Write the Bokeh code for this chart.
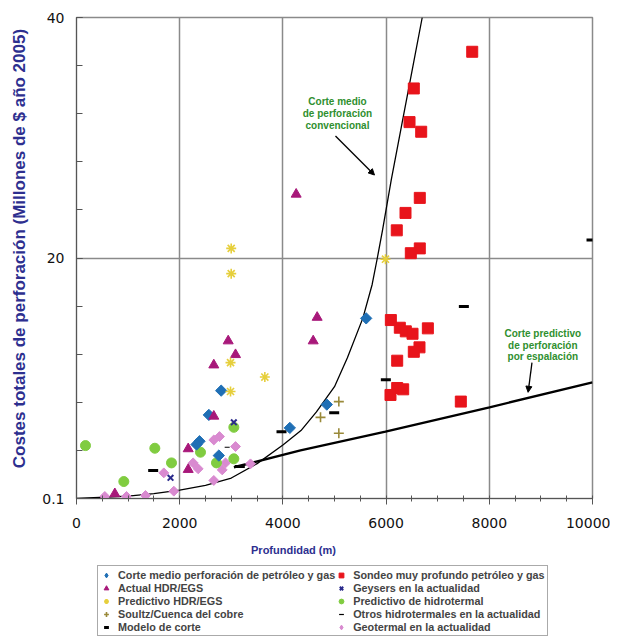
from bokeh.plotting import figure
from bokeh.layouts import column
from bokeh.models import FixedTicker, Legend, LegendItem, Arrow, NormalHead, Label, Range1d
from bokeh.embed import file_html
from bokeh.resources import INLINE

# ---------------- data ----------------
x_ticks = [0, 2000, 4000, 6000, 8000, 10000]
x_tick_labels = ["0", "2000", "4000", "6000", "8000", "10000"]
y_ticks = [0, 20, 40]
y_tick_labels = ["0.1", "20", "40"]

# Corte medio perforación de petróleo y gas (blue diamonds)
oil_avg_x = [5614, 4851, 4134, 2804, 2565, 2384, 2326, 2758]
oil_avg_y = [14.98, 7.81, 5.87, 8.97, 6.95, 4.76, 4.49, 3.57]

# Actual HDR/EGS (magenta triangles)
hdr_x = [4257, 4664, 4587, 2940, 3082, 2661, 2661, 2165, 2165, 743]
hdr_y = [25.3, 15.06, 13.1, 13.1, 11.96, 11.1, 6.84, 4.13, 2.41, 0.39]

# Predictivo HDR/EGS (yellow asterisks)
hdr_pred_x = [2998, 2998, 2985, 3650, 2985, 5988]
hdr_pred_y = [20.8, 18.7, 11.3, 10.1, 8.9, 19.9]

# Soultz/Cuenca del cobre (olive plus)
soultz_x = [5084, 4729, 5084]
soultz_y = [8.06, 6.75, 5.42]

# Modelo de corte (thick black dash)
model_x = [9981, 7507, 5995, 4994, 3973, 3165, 1486, 6650, 6650]
model_y = [21.5, 15.97, 9.88, 7.14, 5.56, 2.66, 2.33, 25.2, 20.9]

# Sondeo muy profundo petróleo y gas (red squares)
deep_x = [7669, 6537, 6454, 6680, 6653, 6376, 6207, 6653, 6479, 6092,
          6266, 6382, 6512, 6809, 6647, 6537, 6215, 6215, 6331, 6085, 7448]
deep_y = [37.15, 34.1, 31.3, 30.5, 25.0, 23.75, 22.3, 20.8, 20.4, 14.84,
          14.2, 13.9, 13.7, 14.15, 12.57, 12.2, 11.46, 9.19, 9.08, 8.61, 8.06]

# Geysers en la actualidad (navy x)
geysers_x = [1822, 3049]
geysers_y = [1.72, 6.34]

# Predictivo de hidrotermal (green circles)
hydro_pred_x = [174, 1518, 1841, 917, 2403, 2713, 3049, 3049]
hydro_pred_y = [4.40, 4.18, 2.96, 1.41, 3.85, 2.96, 3.30, 5.92]

# Otros hidrotermales en la actualidad (thin dash)
other_x = [2920]
other_y = [4.26]

# Geotermal en la actualidad (pink diamonds)
geo_x = [549, 969, 1337, 1886, 1692, 2261, 2358, 2661, 2824, 2888, 3082, 2661, 2771, 3372]
geo_y = [0.17, 0.17, 0.25, 0.61, 2.13, 2.96, 2.47, 1.50, 2.38, 2.96, 4.32, 4.87, 5.15, 2.88]

# Corte medio de perforación convencional (curve)
conv_x = [0, 1000, 1500, 2000, 2500, 3000, 3500, 4000, 4350, 4650, 5000, 5250,
          5550, 5730, 5830, 5930, 6100, 6300, 6500, 6700]
conv_y = [0.0, 0.2, 0.4, 0.7, 1.1, 1.7, 2.9, 4.45, 5.65, 7.2, 9.3, 11.7,
          15.0, 17.8, 20.0, 22.3, 26.5, 31.0, 35.5, 40.0]

# Corte predictivo de perforación por espalación (line)
spall_x = [3050, 4341, 5988, 8004, 10000]
spall_y = [2.6, 4.0, 5.56, 7.58, 9.66]

legend_left = ["Corte medio perforación de petróleo y gas", "Actual HDR/EGS",
               "Predictivo HDR/EGS", "Soultz/Cuenca del cobre", "Modelo de corte"]
legend_right = ["Sondeo muy profundo petróleo y gas", "Geysers en la actualidad",
                "Predictivo de hidrotermal", "Otros hidrotermales en la actualidad",
                "Geotermal en la actualidad"]

# marker styles (no data here)
STY = {
    "oil": dict(marker="square", angle=0.785, size=8, fill_color="#1f6fb5", line_color="#1f6fb5"),
    "hdr": dict(marker="triangle", size=10, fill_color="#a8187a", line_color="#a8187a"),
    "hdrp": dict(marker="asterisk", size=10, line_color="#e6cf3c", line_width=1.6),
    "soultz": dict(marker="cross", size=10, line_color="#9a8a3a", line_width=1.6),
    "model": dict(marker="dash", size=10, line_color="black", line_width=3),
    "deep": dict(marker="square", size=11, fill_color="#e8141b", line_color="#e8141b"),
    "gey": dict(marker="x", size=8, line_color="#2b2b8c", line_width=2),
    "hpred": dict(marker="circle", size=10, fill_color="#80cc40", line_color="#80cc40"),
    "other": dict(marker="dash", size=5, line_color="black", line_width=1.2),
    "geo": dict(marker="square", angle=0.785, size=7, fill_color="#d98ad0", line_color="#d98ad0"),
}
LEG_STY = dict(STY)
LEG_STY["oil"] = dict(marker="diamond", size=11, fill_color="#1f6fb5", line_color="#1f6fb5")
LEG_STY["geo"] = dict(marker="diamond", size=10, fill_color="#d98ad0", line_color="#d98ad0")

# ---------------- main figure ----------------
p = figure(frame_width=516, frame_height=481, output_backend="svg", toolbar_location=None,
           x_range=Range1d(0, 10000), y_range=Range1d(0, 40),
           min_border_left=76, min_border_right=18, min_border_top=17, min_border_bottom=36)
p.background_fill_color = "white"
p.border_fill_color = "white"
p.outline_line_color = "#8a8a8a"
p.outline_line_width = 1.5

grid_col = "#8a8a8a"
p.xgrid.ticker = FixedTicker(ticks=[2000, 4000, 6000, 8000])
p.ygrid.ticker = FixedTicker(ticks=[20])
for g in (p.xgrid, p.ygrid):
    g.grid_line_color = grid_col
    g.grid_line_width = 1.5

xa = p.xaxis[0]
xa.ticker = FixedTicker(ticks=x_ticks, minor_ticks=list(range(0, 10001, 500)))
xa.major_label_overrides = {t: l for t, l in zip(x_ticks, x_tick_labels)}
ya = p.yaxis[0]
ya.ticker = FixedTicker(ticks=y_ticks, minor_ticks=list(range(0, 41, 4)))
ya.major_label_overrides = {t: l for t, l in zip(y_ticks, y_tick_labels)}

for ax in (xa, ya):
    ax.major_label_text_font = "DejaVu Sans"
    ax.major_label_text_font_size = "14px"
    ax.major_label_text_color = "#111111"
    ax.axis_label_text_font = "Liberation Sans"
    ax.axis_label_text_font_style = "bold"
    ax.axis_label_text_color = "#2d2f8f"
    ax.axis_line_color = "#555555"
    ax.major_tick_line_color = "#555555"
    ax.minor_tick_line_color = "#555555"
xa.major_tick_in = 0
xa.major_tick_out = 6
xa.minor_tick_in = 3
xa.minor_tick_out = 3
xa.major_label_standoff = 13
ya.major_tick_in = 6
ya.major_tick_out = 0
ya.minor_tick_in = 6
ya.minor_tick_out = 0
ya.major_label_standoff = 12
ya.axis_label = "\u00a0\u00a0\u00a0\u00a0Costes totales de perforación (Millones de $ año 2005)"
ya.axis_label_text_font_size = "17px"
ya.axis_label_standoff = 10

# curves
p.line(conv_x, conv_y, line_color="black", line_width=1.3)
p.line(spall_x, spall_y, line_color="black", line_width=2.4)

# markers
p.scatter(model_x, model_y, **STY["model"])
p.scatter(deep_x, deep_y, **STY["deep"])
p.scatter(geo_x, geo_y, **STY["geo"])
p.scatter(hydro_pred_x, hydro_pred_y, **STY["hpred"])
p.scatter(oil_avg_x, oil_avg_y, **STY["oil"])
p.scatter(hdr_x, hdr_y, **STY["hdr"])
p.scatter(hdr_pred_x, hdr_pred_y, **STY["hdrp"])
p.scatter(soultz_x, soultz_y, **STY["soultz"])
p.scatter(geysers_x, geysers_y, **STY["gey"])
p.scatter(other_x, other_y, **STY["other"])

# annotations
green = "#2f8f2f"
for i, t in enumerate(["Corte medio", "de perforación", "convencional"]):
    p.add_layout(Label(x=5058, y=33.0 - i * 0.97, text=t, text_align="center", text_baseline="middle",
                       text_font="Liberation Sans", text_font_style="bold", text_font_size="10px",
                       text_color=green))
for i, t in enumerate(["Corte predictivo", "de perforación", "por espalación"]):
    p.add_layout(Label(x=9037, y=13.7 - i * 0.95, text=t, text_align="center", text_baseline="middle",
                       text_font="Liberation Sans", text_font_style="bold", text_font_size="10px",
                       text_color=green))
p.add_layout(Arrow(end=NormalHead(size=6, fill_color="black", line_color="black"),
                   x_start=5019, y_start=30.15, x_end=5775, y_end=26.9, line_width=1.3))
p.add_layout(Arrow(end=NormalHead(size=6, fill_color="black", line_color="black"),
                   x_start=8827, y_start=11.3, x_end=8752, y_end=8.83, line_width=1.3))

# ---------------- legend / x-label figure ----------------
q = figure(width=610, height=102, output_backend="svg", toolbar_location=None,
           x_axis_type=None, y_axis_type=None, x_range=Range1d(0, 1), y_range=Range1d(0, 1),
           min_border_left=0, min_border_right=0, min_border_top=0, min_border_bottom=0)
q.outline_line_color = None
q.xgrid.visible = False
q.ygrid.visible = False
q.add_layout(Label(x=217, y=87, x_units="screen", y_units="screen", text="Profundidad (m)",
                   text_align="center", text_baseline="middle", text_font="Liberation Sans",
                   text_font_style="bold", text_font_size="11px", text_color="#2d2f8f"))

left_keys = ["oil", "hdr", "hdrp", "soultz", "model"]
right_keys = ["deep", "gey", "hpred", "other", "geo"]
nan = float("nan")
items = []
for labels, keys in ((legend_left, left_keys), (legend_right, right_keys)):
    for lab, k in zip(labels, keys):
        r = q.scatter([nan], [nan], **LEG_STY[k])
        items.append(LegendItem(label=lab, renderers=[r]))
leg = Legend(items=items, ncols=2, location=(21, 0),
             label_text_font="Liberation Sans", label_text_font_style="bold",
             label_text_font_size="10.8px", label_standoff=6,
             glyph_width=12, glyph_height=12, label_height=13, spacing=0, padding=2,
             margin=0, border_line_color="#555555", border_line_width=1,
             background_fill_alpha=1)
q.add_layout(leg, "center")

open("out.html", "w").write(file_html(column(p, q, spacing=0), INLINE))
